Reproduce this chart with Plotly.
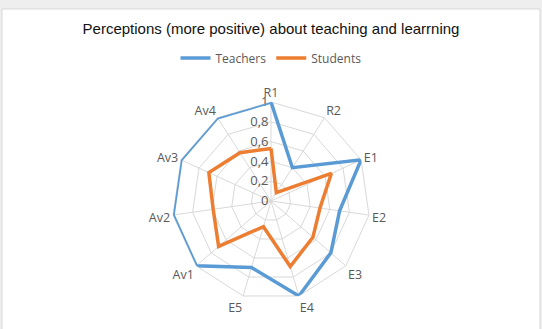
import plotly.graph_objects as go

categories = ["R1", "R2", "E1", "E2", "E3", "E4", "E5", "Av1", "Av2", "Av3", "Av4"]
teachers = [1.0, 0.4, 1.0, 0.7, 0.8, 1.0, 0.7, 1.0, 1.0, 1.0, 1.0]
students = [0.53, 0.1, 0.67, 0.5, 0.56, 0.69, 0.27, 0.7, 0.59, 0.69, 0.58]
radial_ticks = [0, 0.2, 0.4, 0.6, 0.8, 1.0]

W, H = 542, 329
cx, cy, R = 271, 201, 99

fig = go.Figure()
for name, vals, col in [("Teachers", teachers, "#5B9BD5"), ("Students", students, "#ED7D31")]:
    fig.add_trace(go.Scatterpolar(
        r=vals + vals[:1], theta=categories + categories[:1], name=name, cliponaxis=False,
        mode="lines", line=dict(color=col, width=3.5)))

fig.update_layout(
    width=W, height=H, margin=dict(l=0, r=0, t=0, b=0),
    paper_bgcolor="#eeeeee", separators=", ",
    font=dict(family="Liberation Sans, Arial", color="#595959"),
    title=dict(text="Perceptions (more positive) about teaching and learrning",
               x=0.5, xanchor="center", y=1 - 29 / H, yanchor="middle",
               font=dict(size=15, color="#111111", family="Liberation Sans, Arial")),
    legend=dict(orientation="h", x=0.5, xanchor="center", y=1 - 58 / H, yanchor="middle",
                font=dict(size=12, color="#595959", family="Open Sans, Liberation Sans"),
                itemwidth=30, bgcolor="rgba(0,0,0,0)"),
    shapes=[dict(type="rect", xref="paper", yref="paper", x0=2 / W, x1=540 / W,
                 y0=-0.02, y1=1 - 9 / H, fillcolor="white",
                 line=dict(color="#d9d9d9", width=1), layer="below")],
    polar=dict(
        domain=dict(x=[(cx - R) / W, (cx + R) / W], y=[(H - cy - R) / H, (H - cy + R) / H]),
        bgcolor="rgba(0,0,0,0)", gridshape="linear",
        angularaxis=dict(direction="clockwise", rotation=90, categoryorder="array",
                         categoryarray=categories, showline=True, linecolor="#d9d9d9",
                         gridcolor="#d9d9d9", ticks="", layer="below traces",
                         tickfont=dict(size=12.5, color="#595959", family="Open Sans, Liberation Sans")),
        radialaxis=dict(range=[0, 1], tickvals=radial_ticks, angle=90, tickangle=90,
                        side="counterclockwise", showline=False, gridcolor="#d9d9d9",
                        ticks="", tickformat=".1~f", layer="below traces",
                        ticksuffix="\u2003",
                        tickfont=dict(size=13, color="#595959", family="Open Sans, Liberation Sans")),
    ),
)
fig.write_html("out.html")
